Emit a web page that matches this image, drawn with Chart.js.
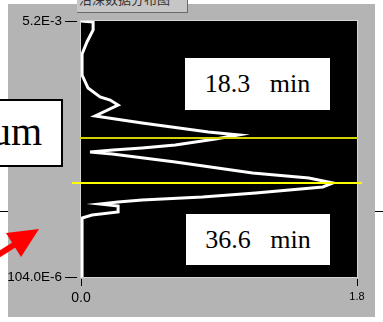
<!DOCTYPE html>
<html>
<head>
<meta charset="utf-8">
<script src="https://cdn.jsdelivr.net/npm/chart.js@4.4.0/dist/chart.umd.min.js"></script>
<style>
  html, body { margin: 0; padding: 0; background: #fff; width: 383px; height: 322px; overflow: hidden; }
  body { position: relative; }
  #rule { position: absolute; left: 0; top: 211px; width: 383px; height: 1px; background: #000; }
  #panel { position: absolute; left: 8px; top: 4px; width: 367px; height: 313px; background: #b4b4b4; }
  #c { position: absolute; left: 0; top: 0; }
  #caption { position: absolute; left: 77px; top: 0; width: 110px; height: 12px; overflow: hidden;
             background: #c6c6c6; border-right: 1px solid #6a6a6a; border-bottom: 1px solid #6a6a6a; }
  #caption span { position: absolute; left: 2px; top: -11px; font: 13px 'Noto Sans CJK SC', sans-serif;
                  color: #333; white-space: nowrap; }
  .tag { position: absolute; background: #fff; color: #000; white-space: pre;
         font-family: 'Liberation Serif', 'Times New Roman', serif; font-size: 26px;
         display: flex; align-items: center; justify-content: center; }
  #unit { position: absolute; left: -40px; top: 99px; width: 99px; height: 64px; background: #fff;
          border: 2px solid #000; overflow: hidden; }
  #unit span { position: absolute; right: 19px; top: 7px; font-family: 'Liberation Serif', 'Times New Roman', serif;
               font-size: 40px; line-height: 48px; color: #000; }
  #arrow { position: absolute; left: 0; top: 0; }
</style>
</head>
<body>
<div id="rule"></div>
<div id="panel"></div>
<canvas id="c" width="383" height="322"></canvas>
<div id="caption"><span>沿深数据分布图</span></div>
<div class="tag" id="tag0" style="left:185px;top:58px;width:145px;height:52px;"></div>
<div class="tag" id="tag1" style="left:186px;top:214px;width:144px;height:51px;"></div>
<div id="unit"><span>um</span></div>
<svg id="arrow" width="383" height="322">
  <line x1="-2" y1="255" x2="17" y2="243" stroke="#ff0000" stroke-width="6"/>
  <polygon points="39,229 6,233 21,257" fill="#ff0000"/>
</svg>
<script>
// Profile: signal strength (x) against depth (y)
const signal = [0.000, 0.079, 0.079, 0.039, 0.007, 0.007, 0.046, 0.124, 0.190, 0.242,
                0.092, 0.399, 0.831, 1.028, 0.877, 0.615, 0.399, 0.209, 0.059, 0.203,
                0.615, 1.119, 1.486, 1.643, 1.577, 1.139, 0.792, 0.399, 0.242, 0.124,
                0.242, 0.242, 0.072, 0.007, 0.007];
const depth = [5.200e-3, 5.180e-3, 5.021e-3, 4.782e-3, 4.543e-3, 4.125e-3, 3.866e-3, 3.687e-3, 3.627e-3, 3.528e-3,
               3.309e-3, 3.170e-3, 2.990e-3, 2.931e-3, 2.851e-3, 2.732e-3, 2.672e-3, 2.632e-3, 2.592e-3, 2.553e-3,
               2.393e-3, 2.174e-3, 2.075e-3, 1.975e-3, 1.896e-3, 1.776e-3, 1.697e-3, 1.637e-3, 1.597e-3, 1.557e-3,
               1.517e-3, 1.398e-3, 1.338e-3, 1.278e-3, 0.104e-3];

// Horizontal cursors and their time labels
const markerDepths = [2.871e-3, 1.975e-3];
const markerLabels = ['18.3   min', '36.6   min'];

// Axis ticks
const xTicks = [0, 1.8];
const xTickLabels = ['0.0', '1.8'];
const yTicks = [104.0e-6, 5.2e-3];
const yTickLabels = ['104.0E-6', '5.2E-3'];

document.getElementById('tag0').textContent = markerLabels[0];
document.getElementById('tag1').textContent = markerLabels[1];

const points = signal.map((v, i) => ({ x: v, y: depth[i] }));

const cursorStyle = [
  { color: '#d2d200', width: 2, left: -1, right: 1 },
  { color: '#ffff00', width: 2, left: -9, right: 5 }
];

const plotBg = {
  id: 'plotBg',
  beforeDraw(chart) {
    const { ctx, chartArea: a } = chart;
    ctx.save();
    ctx.fillStyle = '#000';
    ctx.fillRect(a.left, a.top, a.right - a.left, a.bottom - a.top);
    ctx.strokeStyle = '#d4d4d4';
    ctx.lineWidth = 1;
    ctx.strokeRect(a.left - 0.5, a.top - 0.5, a.right - a.left + 1, a.bottom - a.top + 1);
    ctx.restore();
  }
};

const cursors = {
  id: 'cursors',
  afterDatasetsDraw(chart) {
    const { ctx, chartArea: a } = chart;
    const ys = chart.scales.y;
    ctx.save();
    markerDepths.forEach((d, i) => {
      const s = cursorStyle[i];
      const py = Math.round(ys.getPixelForValue(d));
      ctx.strokeStyle = s.color;
      ctx.lineWidth = s.width;
      ctx.beginPath();
      ctx.moveTo(a.left + s.left, py);
      ctx.lineTo(a.right + s.right, py);
      ctx.stroke();
    });
    ctx.restore();
  }
};

new Chart(document.getElementById('c'), {
  type: 'scatter',
  data: {
    datasets: [{
      data: points,
      showLine: true,
      borderColor: '#ffffff',
      borderWidth: 3,
      pointRadius: 0,
      tension: 0,
      borderJoinStyle: 'miter'
    }]
  },
  options: {
    responsive: false,
    animation: false,
    devicePixelRatio: 1,
    layout: { padding: { left: 0, right: 26, top: 21, bottom: 0 } },
    plugins: { legend: { display: false }, tooltip: { enabled: false } },
    scales: {
      x: {
        type: 'linear',
        min: 0,
        max: 1.8,
        afterBuildTicks: s => { s.ticks = xTicks.map(v => ({ value: v })); },
        afterFit: s => { s.height = 45; },
        border: { display: false },
        grid: { drawOnChartArea: false, drawTicks: true, tickLength: 9, color: '#000',
                tickBorderDash: [0, 2, 7, 50] },
        ticks: {
          callback: (v, i) => xTickLabels[i],
          color: '#000',
          padding: 4,
          maxRotation: 0,
          autoSkip: false,
          font: ctx => ({ family: "'Liberation Sans', Arial, sans-serif", size: ctx.index === 0 ? 14 : 11 })
        }
      },
      y: {
        type: 'linear',
        min: 104.0e-6,
        max: 5.2e-3,
        afterBuildTicks: s => { s.ticks = yTicks.map(v => ({ value: v })); },
        afterFit: s => { s.width = 81; },
        border: { display: false },
        grid: { drawOnChartArea: false, drawTicks: true, tickLength: 16, color: '#000',
                tickBorderDash: [12, 50] },
        ticks: {
          callback: (v, i) => yTickLabels[i],
          color: '#000',
          padding: 3,
          autoSkip: false,
          font: { family: "'Liberation Sans', Arial, sans-serif", size: 13.5 }
        }
      }
    }
  },
  plugins: [plotBg, cursors]
});
</script>
</body>
</html>
